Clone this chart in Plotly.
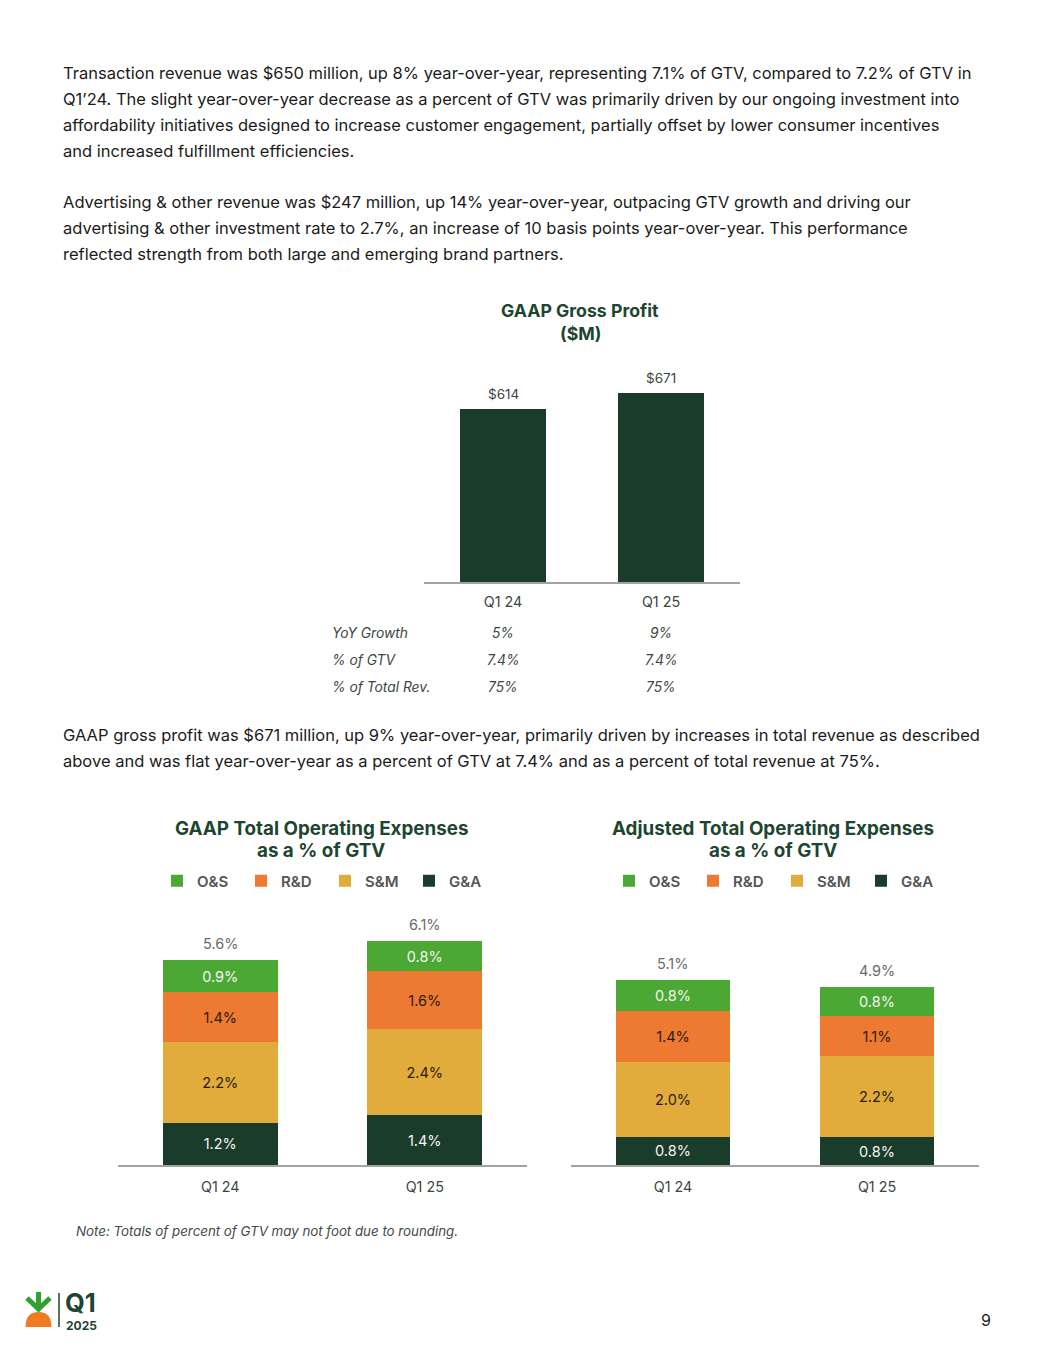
import plotly.graph_objects as go

# page geometry (the page body adds an 8px margin around the figure)
PAGE_W, PAGE_H = 1055, 1365
OFF = 8
W, H = PAGE_W - 2 * OFF, PAGE_H - 2 * OFF

# ---------------- data ----------------
periods = ["Q1 24", "Q1 25"]
gross_profit = [614, 671]
gp_table_rows = ["YoY Growth", "% of GTV", "% of Total Rev."]
gp_yoy = ["5%", "9%"]
gp_pct_gtv = ["7.4%", "7.4%"]
gp_pct_rev = ["75%", "75%"]

segments = ["G&A", "S&M", "R&D", "O&S"]  # bottom to top
gaap_ga = [1.16, 1.36]
gaap_sm = [2.2, 2.37]
gaap_rd = [1.38, 1.58]
gaap_os = [0.87, 0.82]

adj_ga = [0.78, 0.76]
adj_sm = [2.03, 2.22]
adj_rd = [1.42, 1.1]
adj_os = [0.84, 0.8]

seg_colors = {"O&S": "#4ba933", "R&D": "#ee7a31", "S&M": "#e2ac3c", "G&A": "#1a3c2b"}
seg_text = {"O&S": "#f4f4f4", "R&D": "#2a1a10", "S&M": "#2a1a10", "G&A": "#f4f4f4"}

para1 = [
    "Transaction revenue was $650 million, up 8% year-over-year, representing 7.1% of GTV, compared to 7.2% of GTV in",
    "Q1\u201924. The slight year-over-year decrease as a percent of GTV was primarily driven by our ongoing investment into",
    "affordability initiatives designed to increase customer engagement, partially offset by lower consumer incentives",
    "and increased fulfillment efficiencies.",
]
para2 = [
    "Advertising & other revenue was $247 million, up 14% year-over-year, outpacing GTV growth and driving our",
    "advertising & other investment rate to 2.7%, an increase of 10 basis points year-over-year. This performance",
    "reflected strength from both large and emerging brand partners.",
]
para3 = [
    "GAAP gross profit was $671 million, up 9% year-over-year, primarily driven by increases in total revenue as described",
    "above and was flat year-over-year as a percent of GTV at 7.4% and as a percent of total revenue at 75%.",
]

FONT = "Inter"
TITLE_GREEN = "#1d4630"
DARK = "#1b1b1b"
AXIS_TXT = "#3c4741"


def px_x(x):
    return (x - OFF) / W


def px_y(y):
    return 1 - (y - OFF) / H


fig = go.Figure()

# ---------------- gross profit bars ----------------
fig.add_trace(go.Bar(
    x=periods, y=gross_profit, xaxis="x", yaxis="y",
    marker=dict(color="#1a3c2b", line=dict(width=0)),
    cliponaxis=False, width=0.545, showlegend=False, hoverinfo="skip",
))


def add_stack(xa, ya, series, legend):
    for name, vals in series:
        fig.add_trace(go.Bar(
            x=periods, y=vals, name=name, xaxis=xa, yaxis=ya,
            marker=dict(color=seg_colors[name], line=dict(width=0)),
            texttemplate="%{y:.1f}%", textposition="inside",
            insidetextanchor="middle", textangle=0, constraintext="none",
            textfont=dict(family=FONT, size=14.5, color=seg_text[name]),
            width=0.56, legend=legend, hoverinfo="skip",
        ))


add_stack("x2", "y2", [("G&A", gaap_ga), ("S&M", gaap_sm), ("R&D", gaap_rd), ("O&S", gaap_os)], "legend")
add_stack("x3", "y3", [("G&A", adj_ga), ("S&M", adj_sm), ("R&D", adj_rd), ("O&S", adj_os)], "legend2")

ann = []


def text(x, y, s, size=16, color=DARK, anchor="left", bold=False, italic=False, family=FONT, xref="paper", yref="paper"):
    ann.append(dict(
        x=x, y=y, xref=xref, yref=yref, text=s, showarrow=False,
        xanchor=anchor, yanchor="middle",
        font=dict(family=family, size=size, color=color,
                  weight=700 if bold else 400, style="italic" if italic else "normal"),
    ))


# body paragraphs
for i, line in enumerate(para1):
    text(px_x(61), px_y(73 + 26 * i), line, size=16.5)
for i, line in enumerate(para2):
    text(px_x(61), px_y(202 + 26 * i), line, size=16.5)
for i, line in enumerate(para3):
    text(px_x(61), px_y(735 + 26 * i), line, size=16.5)

# gross profit value labels above bars
for p, v in zip(periods, gross_profit):
    ann.append(dict(x=p, y=v, xref="x", yref="y", text=f"${v}", showarrow=False,
                    xanchor="center", yanchor="bottom", yshift=5,
                    font=dict(family=FONT, size=13.5, color=AXIS_TXT)))

# gross profit title
text(px_x(580), px_y(311), "GAAP Gross Profit", size=17.7, color=TITLE_GREEN, anchor="center", bold=True)
text(px_x(580), px_y(333), "($M)", size=17.7, color=TITLE_GREEN, anchor="center", bold=True)

# gross profit table
row_vals = [gp_yoy, gp_pct_gtv, gp_pct_rev]
for r, (label, vals) in enumerate(zip(gp_table_rows, row_vals)):
    yy = px_y(633 + 27 * r)
    text(px_x(330), yy, label, size=13.8, color=AXIS_TXT, italic=True)
    for p, v in zip(periods, vals):
        text(p, yy, v, size=13.8, color=AXIS_TXT, anchor="center", italic=True, xref="x")

# stacked titles
text(px_x(321), px_y(828), "GAAP Total Operating Expenses", size=18.8, color=TITLE_GREEN, anchor="center", bold=True)
text(px_x(321), px_y(851), "as a % of GTV", size=18.8, color=TITLE_GREEN, anchor="center", bold=True)
text(px_x(773), px_y(828), "Adjusted Total Operating Expenses", size=18.8, color=TITLE_GREEN, anchor="center", bold=True)
text(px_x(773), px_y(851), "as a % of GTV", size=18.8, color=TITLE_GREEN, anchor="center", bold=True)

# totals above stacks
gaap_tot = [a + b + c + d for a, b, c, d in zip(gaap_ga, gaap_sm, gaap_rd, gaap_os)]
adj_tot = [a + b + c + d for a, b, c, d in zip(adj_ga, adj_sm, adj_rd, adj_os)]
for xa, ya, tots in [("x2", "y2", gaap_tot), ("x3", "y3", adj_tot)]:
    for p, t in zip(periods, tots):
        ann.append(dict(x=p, y=t, xref=xa, yref=ya, text=f"{t:.1f}%", showarrow=False,
                        xanchor="center", yanchor="bottom", yshift=6,
                        font=dict(family=FONT, size=14.5, color="#6b6b6b")))

# note
text(px_x(74), px_y(1231), "Note: Totals of percent of GTV may not foot due to rounding.", size=13.3, color="#3f4a44", italic=True)

# footer logo text + page number
text(px_x(63), px_y(1302), "Q1", size=25.5, color="#1d4630", bold=True)
text(px_x(64), px_y(1325), "2025", size=12, color="#1d4630", bold=True)
text(px_x(993), px_y(1320), "9", size=16, color=DARK, anchor="right")

shapes = [
    # vertical divider of logo
    dict(type="line", xref="paper", yref="paper", x0=px_x(59), x1=px_x(59), y0=px_y(1293), y1=px_y(1327),
         line=dict(color="#1d4630", width=1.5)),
    # orange half disc
    dict(type="path", xref="paper", yref="paper",
         path=f"M {px_x(25.5)} {px_y(1327)} Q {px_x(25.5)} {px_y(1312)} {px_x(38.5)} {px_y(1312)} "
              f"Q {px_x(51.5)} {px_y(1312)} {px_x(51.5)} {px_y(1327)} Z",
         fillcolor="#f07b22", line=dict(width=0)),
    # green arrow stem
    dict(type="line", xref="paper", yref="paper", x0=px_x(38.5), x1=px_x(38.5), y0=px_y(1292), y1=px_y(1310),
         line=dict(color="#2fa12c", width=5)),
    dict(type="path", xref="paper", yref="paper",
         path=f"M {px_x(27)} {px_y(1298)} L {px_x(38.5)} {px_y(1309)} L {px_x(50)} {px_y(1298)}",
         line=dict(color="#2fa12c", width=5)),
]

axis_common = dict(showgrid=False, zeroline=False, showline=True, linecolor="#a3a3a3", linewidth=2,
                   ticks="", tickfont=dict(family=FONT, size=14.3, color=AXIS_TXT), fixedrange=True)
yaxis_common = dict(showgrid=False, zeroline=False, showline=False, showticklabels=False, fixedrange=True)

gp_scale = 173 / 614  # px per $M
gp_top = 372
legend_font = dict(family=FONT, size=15, color="#555555", weight=600)

fig.update_layout(
    width=W, height=H, margin=dict(l=0, r=0, t=0, b=0),
    paper_bgcolor="white", plot_bgcolor="white",
    barmode="stack", annotations=ann, shapes=shapes,
    font=dict(family=FONT),
    xaxis=dict(domain=[px_x(424), px_x(740)], anchor="y", range=[-0.5, 1.5], ticklabelstandoff=6, **axis_common),
    yaxis=dict(domain=[px_y(582), px_y(gp_top)], anchor="x", range=[0, (582 - gp_top) / gp_scale], **yaxis_common),
    xaxis2=dict(domain=[px_x(118), px_x(527)], anchor="y2", range=[-0.5, 1.5], ticklabelstandoff=8, **axis_common),
    yaxis2=dict(domain=[px_y(1165), px_y(909.5)], anchor="x2", range=[0, 7.0], **yaxis_common),
    xaxis3=dict(domain=[px_x(571), px_x(979)], anchor="y3", range=[-0.5, 1.5], ticklabelstandoff=8, **axis_common),
    yaxis3=dict(domain=[px_y(1165), px_y(909.5)], anchor="x3", range=[0, 7.0], **yaxis_common),
    legend=dict(orientation="h", x=px_x(157), y=px_y(881), xanchor="left", yanchor="middle",
                traceorder="reversed", entrywidth=39, entrywidthmode="pixels",
                font=legend_font, bgcolor="rgba(0,0,0,0)"),
    legend2=dict(orientation="h", x=px_x(609), y=px_y(881), xanchor="left", yanchor="middle",
                 traceorder="reversed", entrywidth=39, entrywidthmode="pixels",
                 font=legend_font, bgcolor="rgba(0,0,0,0)"),
)

fig.write_html("out.html")
